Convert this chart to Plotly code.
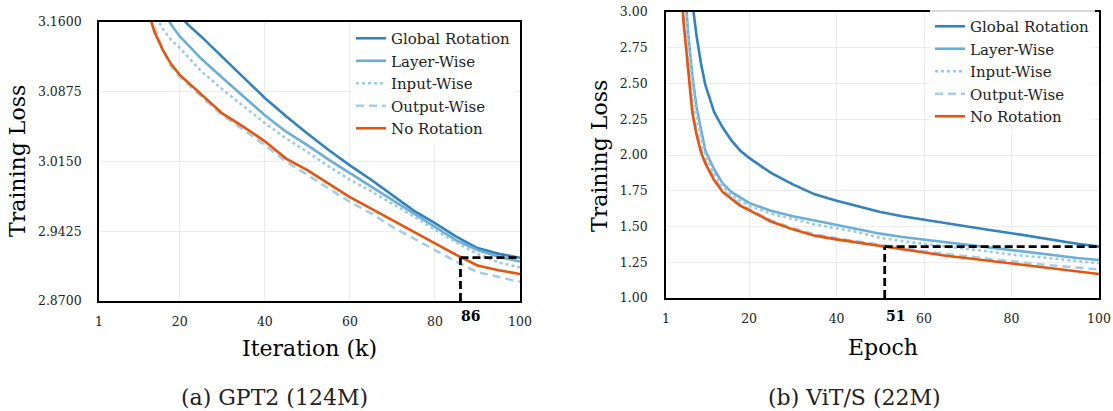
import plotly.graph_objects as go

# ---------------- data: (a) GPT2 (124M) ----------------
gpt_x = [12, 14, 16, 18, 20, 22, 25, 30, 35, 40, 45, 50, 55, 60, 65, 70, 75, 80, 85, 90, 95, 100]
gpt_global = [3.22, 3.205, 3.19, 3.176, 3.166, 3.157, 3.145, 3.124, 3.102, 3.081, 3.062, 3.044,
              3.027, 3.011, 2.996, 2.980, 2.964, 2.951, 2.937, 2.925, 2.919, 2.915]
gpt_layer = [3.22, 3.195, 3.172, 3.157, 3.145, 3.136, 3.122, 3.102, 3.083, 3.063, 3.046, 3.032,
             3.017, 3.003, 2.989, 2.975, 2.961, 2.947, 2.933, 2.923, 2.916, 2.911]
gpt_input = [3.20, 3.168, 3.153, 3.141, 3.133, 3.123, 3.109, 3.090, 3.072, 3.055, 3.039, 3.025,
             3.010, 2.996, 2.984, 2.971, 2.958, 2.944, 2.931, 2.919, 2.910, 2.905]
gpt_output = [3.18, 3.155, 3.131, 3.114, 3.103, 3.095, 3.083, 3.063, 3.048, 3.032, 3.015, 3.001,
              2.987, 2.973, 2.961, 2.947, 2.935, 2.923, 2.911, 2.900, 2.895, 2.890]
gpt_none = [3.18, 3.150, 3.131, 3.116, 3.105, 3.097, 3.084, 3.065, 3.051, 3.036, 3.018, 3.006,
            2.992, 2.978, 2.966, 2.954, 2.942, 2.930, 2.918, 2.907, 2.902, 2.898]
gpt_mark_x = 86
gpt_yticks = [2.87, 2.9425, 3.015, 3.0875, 3.16]

# ---------------- data: (b) ViT/S (22M) ----------------
vit_x = [4, 5, 6, 7, 8, 9, 10, 12, 14, 16, 18, 20, 25, 30, 35, 40, 45, 50, 55, 60, 65, 70, 75, 80, 85, 90, 95, 100]
vit_global = [4.5, 4.0, 3.45, 3.07, 2.83, 2.64, 2.49, 2.30, 2.19, 2.10, 2.03, 1.98, 1.875, 1.795, 1.725,
              1.68, 1.64, 1.602, 1.572, 1.547, 1.524, 1.50, 1.476, 1.453, 1.428, 1.404, 1.38, 1.359]
vit_layer = [4.0, 3.35, 2.87, 2.56, 2.33, 2.17, 2.03, 1.90, 1.80, 1.74, 1.70, 1.665, 1.61, 1.572, 1.542,
             1.512, 1.483, 1.45, 1.427, 1.408, 1.389, 1.37, 1.351, 1.332, 1.315, 1.298, 1.28, 1.266]
vit_input = [3.9, 3.25, 2.80, 2.50, 2.28, 2.12, 2.00, 1.87, 1.78, 1.72, 1.68, 1.645, 1.59, 1.55, 1.515,
             1.487, 1.46, 1.42, 1.398, 1.378, 1.36, 1.343, 1.325, 1.303, 1.29, 1.275, 1.258, 1.243]
vit_output = [3.6, 3.0, 2.66, 2.35, 2.17, 2.05, 1.96, 1.84, 1.755, 1.70, 1.655, 1.622, 1.542, 1.488, 1.445,
              1.418, 1.395, 1.37, 1.348, 1.326, 1.308, 1.29, 1.273, 1.256, 1.24, 1.225, 1.212, 1.20]
vit_none = [3.5, 2.93, 2.62, 2.30, 2.14, 2.02, 1.94, 1.825, 1.74, 1.69, 1.645, 1.615, 1.535, 1.48, 1.436,
            1.41, 1.387, 1.36, 1.337, 1.314, 1.296, 1.278, 1.26, 1.243, 1.225, 1.205, 1.186, 1.168]
vit_mark_x = 51
vit_yticks = [1.00, 1.25, 1.50, 1.75, 2.00, 2.25, 2.50, 2.75, 3.00]

x_ticks = [1, 20, 40, 60, 80, 100]
names = ["Global Rotation", "Layer-Wise", "Input-Wise", "Output-Wise", "No Rotation"]
colors = ["#3182bd", "#6baed6", "#9ecae1", "#a6cde6", "#e6550d"]
dashes = ["solid", "solid", "dot", "8px,5px", "solid"]

FONT = "DejaVu Serif"
W, H = 1113, 411

fig = go.Figure()

def add_panel(xs, series, xa, ya, legend, ymin, mark_x):
    for name, ys, c, d in zip(names, series, colors, dashes):
        fig.add_trace(go.Scatter(x=xs, y=ys, mode="lines", name=name,
                                 line=dict(color=c, width=2.6, dash=d),
                                 xaxis=xa, yaxis=ya, legend=legend))
    final = series[0][-1]
    fig.add_trace(go.Scatter(x=[mark_x, xs[-1]], y=[final, final], mode="lines",
                             line=dict(color="black", width=2.8, dash="8px,4px"),
                             xaxis=xa, yaxis=ya, showlegend=False, hoverinfo="skip"))
    fig.add_trace(go.Scatter(x=[mark_x, mark_x], y=[ymin, final], mode="lines",
                             line=dict(color="black", width=2.8, dash="8px,4px"),
                             xaxis=xa, yaxis=ya, showlegend=False, hoverinfo="skip"))

add_panel(gpt_x, [gpt_global, gpt_layer, gpt_input, gpt_output, gpt_none], "x", "y", "legend", gpt_yticks[0], gpt_mark_x)
add_panel(vit_x, [vit_global, vit_layer, vit_input, vit_output, vit_none], "x2", "y2", "legend2", vit_yticks[0], vit_mark_x)

axis_common = dict(showline=True, linecolor="black", linewidth=1.6, mirror=True,
                   showgrid=True, gridcolor="#ececec", gridwidth=1, zeroline=False,
                   automargin=False, ticks="",
                   tickfont=dict(family=FONT, size=12.5, color="#222"))

# pixel geometry of plot areas (left, right, top, bottom)
L = (99, 520, 22, 301)
R = (666, 1099, 12, 298)

fig.update_layout(
    width=W, height=H, margin=dict(l=0, r=0, t=0, b=0, autoexpand=False),
    paper_bgcolor="white", plot_bgcolor="white",
    xaxis=dict(domain=[L[0] / W, L[1] / W], range=[1, 100], tickvals=x_ticks,
               ticklabelstandoff=8, anchor="y", **axis_common),
    yaxis=dict(domain=[1 - L[3] / H, 1 - L[2] / H], range=[gpt_yticks[0], gpt_yticks[-1]],
               tickvals=gpt_yticks, ticktext=[f"{v:.4f}" for v in gpt_yticks],
               ticklabelstandoff=13, anchor="x", **axis_common),
    xaxis2=dict(domain=[R[0] / W, R[1] / W], range=[1, 100], tickvals=x_ticks,
                ticklabelstandoff=8, anchor="y2", **axis_common),
    yaxis2=dict(domain=[1 - R[3] / H, 1 - R[2] / H], range=[vit_yticks[0], vit_yticks[-1]],
                tickvals=vit_yticks, ticktext=[f"{v:.2f}" for v in vit_yticks],
                ticklabelstandoff=14, anchor="x2", **axis_common),
    legend=dict(x=516 / W, xanchor="right", y=1 - 22 / H, yanchor="top",
                bgcolor="rgba(255,255,255,0.85)", borderwidth=0,
                font=dict(family=FONT, size=15, color="#222"), tracegroupgap=0),
    legend2=dict(x=1095 / W, xanchor="right", y=1 - 10 / H, yanchor="top",
                 bgcolor="rgba(255,255,255,0.85)", borderwidth=0,
                 font=dict(family=FONT, size=15, color="#222"), tracegroupgap=0),
    showlegend=True,
)

def label(text, x, y, size, color="black", angle=0, xref="paper", xshift=0):
    return dict(text=text, x=x, y=y, xref=xref, yref="paper", showarrow=False,
                xanchor="center", yanchor="middle", textangle=angle, xshift=xshift,
                font=dict(family=FONT, size=size, color=color))

ann = [
    label("Iteration (k)", (L[0] + L[1]) / 2 / W, 1 - 348 / H, 22),
    label("Epoch", (R[0] + R[1]) / 2 / W, 1 - 347 / H, 22),
    label("Training Loss", 17 / W, 1 - 161 / H, 22, angle=-90),
    label("Training Loss", 599 / W, 1 - 156 / H, 22, angle=-90),
    label("(a) GPT2 (124M)", 274 / W, 1 - 397 / H, 22, color="#222"),
    label("(b) ViT/S (22M)", 854 / W, 1 - 397 / H, 22, color="#222"),
    label("<b>86</b>", gpt_mark_x, 1 - 316 / H, 14, xref="x", xshift=10),
    label("<b>51</b>", vit_mark_x, 1 - 316 / H, 14, xref="x2", xshift=11),
]
fig.update_layout(annotations=ann)

fig.write_html("out.html", config={"displayModeBar": False},
               post_script="document.body.style.margin='0';")
